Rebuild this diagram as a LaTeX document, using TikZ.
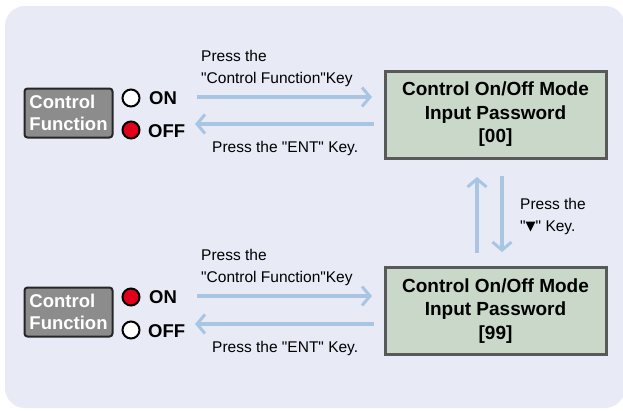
\documentclass[tikz,border=0pt]{standalone}
\usepackage{fontspec}
\setmainfont{Liberation Sans}[Ligatures=TeXOff]
\usetikzlibrary{arrows.meta}
\definecolor{bgc}{HTML}{E8EAF5}
\definecolor{arr}{HTML}{A8C6E4}
\definecolor{lcdf}{HTML}{C9D8C9}
\definecolor{lcdb}{HTML}{595959}
\definecolor{keyf}{HTML}{8C8C8C}
\definecolor{ledr}{HTML}{E0001B}
\newcommand{\dq}{\symbol{34}}
\tikzset{
  keybox/.style={draw=black!85, line width=2pt, fill=keyf, rounded corners=3pt, minimum width=88pt, minimum height=49pt, inner sep=0pt, align=left, text=white, font=\bfseries\fontsize{18.5}{22}\selectfont},
  led/.style={circle, draw=black, line width=2pt, minimum size=17pt, inner sep=0pt},
  ledtxt/.style={anchor=west, inner sep=0pt, font=\bfseries\fontsize{18.5}{20}\selectfont},
  lcd/.style={draw=lcdb, line width=3pt, fill=lcdf, minimum width=221pt, minimum height=87pt, inner sep=0pt, align=center, font=\bfseries\fontsize{19}{23.5}\selectfont},
  lbl/.style={anchor=west, inner sep=0pt, align=left, font=\fontsize{15.5}{22}\selectfont},
  flow/.style={draw=arr, line width=4pt, -{Straight Barb[length=8pt,width=19pt,line width=3pt]}},
}
\begin{document}
\begin{tikzpicture}[x=1pt,y=-1pt]
\useasboundingbox (0,0) rectangle (623,410);
\fill[bgc, rounded corners=20pt] (5,6) rectangle (625,408);

% top row
\node[keybox] (k1) at (68.5,113) {Control\\Function};
\node[led, fill=white] (on1) at (131,98) {};
\node[led, fill=ledr] (off1) at (131,130) {};
\node[ledtxt] (ont1) at (149,98) {ON};
\node[ledtxt] (offt1) at (148,131) {OFF};
\node[lcd] (lcd1) at (495.5,114.5) {Control On/Off Mode\\Input Password\\{[}00{]}};
\coordinate (a1s) at (197,97);
\coordinate (a1e) at (372,97);
\coordinate (a2s) at (374,124);
\coordinate (a2e) at (195,124);
\draw[flow] (a1s) -- (a1e);
\draw[flow] (a2s) -- (a2e);
\node[lbl] (t1) at (201,68) {Press the\\\dq Control Function\dq Key};
\node[lbl] (t2) at (212,148) {Press the \dq ENT\dq\ Key.};

% bottom row
\node[keybox] (k2) at (68.5,312) {Control\\Function};
\node[led, fill=ledr] (on2) at (131,297) {};
\node[led, fill=white] (off2) at (131,330) {};
\node[ledtxt] (ont2) at (149,297) {ON};
\node[ledtxt] (offt2) at (148,331) {OFF};
\node[lcd] (lcd2) at (495.5,311) {Control On/Off Mode\\Input Password\\{[}99{]}};
\coordinate (b1s) at (197,296);
\coordinate (b1e) at (372,296);
\coordinate (b2s) at (374,324);
\coordinate (b2e) at (195,324);
\draw[flow] (b1s) -- (b1e);
\draw[flow] (b2s) -- (b2e);
\node[lbl] (t3) at (201,267) {Press the\\\dq Control Function\dq Key};
\node[lbl] (t4) at (212,348) {Press the \dq ENT\dq\ Key.};

% vertical
\coordinate (u1) at (477,253);
\coordinate (u2) at (477,177);
\coordinate (d1) at (502,176);
\coordinate (d2) at (502,252);
\draw[flow] (u1) -- (u2);
\draw[flow] (d1) -- (d2);
\node[lbl] (t5) at (520,216) {Press the\\\dq\raisebox{0.5pt}{\fontspec{DejaVu Sans}\fontsize{13}{13}\selectfont▼}\dq\ Key.};
\end{tikzpicture}
\end{document}
